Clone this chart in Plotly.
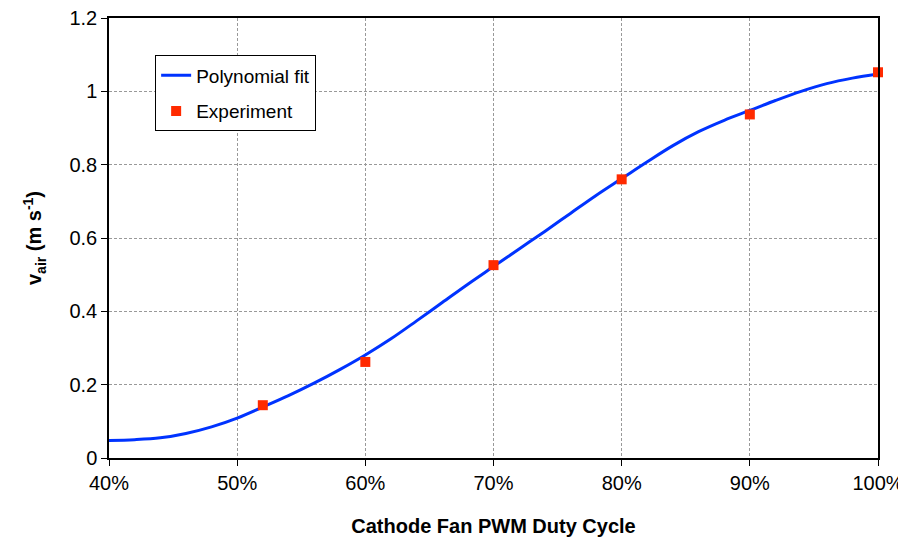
import plotly.graph_objects as go

# Polynomial fit curve
fit_x = [40, 42, 44, 46, 48, 50, 52, 54, 56, 58, 60, 62, 64, 66, 68, 70, 72, 74, 76, 78,
         80, 82, 84, 86, 88, 90, 92, 94, 96, 98, 100]
fit_y = [0.048, 0.050, 0.055, 0.067, 0.085, 0.109, 0.139, 0.170, 0.204, 0.241, 0.281,
         0.325, 0.374, 0.424, 0.474, 0.522, 0.570, 0.618, 0.667, 0.716, 0.762, 0.808,
         0.852, 0.890, 0.921, 0.948, 0.975, 1.000, 1.021, 1.036, 1.047]

# Experiment
exp_x = [52, 60, 70, 80, 90, 100]
exp_y = [0.144, 0.262, 0.526, 0.760, 0.937, 1.052]

x_ticks = [40, 50, 60, 70, 80, 90, 100]
x_labels = ["40%", "50%", "60%", "70%", "80%", "90%", "100%"]
y_ticks = [0, 0.2, 0.4, 0.6, 0.8, 1, 1.2]
y_labels = ["0", "0.2", "0.4", "0.6", "0.8", "1", "1.2"]

fig = go.Figure()
fig.add_trace(go.Scatter(x=fit_x, y=fit_y, mode="lines", name="Polynomial fit",
                         legendgroup="a",
                         line=dict(color="#0033FF", width=3, shape="spline", smoothing=1.0)))
fig.add_trace(go.Scatter(x=exp_x, y=exp_y, mode="markers", name="Experiment",
                         legendgroup="b",
                         marker=dict(symbol="square", size=10, color="#FF2A00"),
                         cliponaxis=False))

font_family = "Liberation Sans, Arial, sans-serif"
fig.update_layout(
    width=898, height=537,
    margin=dict(l=101, r=28, t=10, b=87),
    paper_bgcolor="white", plot_bgcolor="white",
    font=dict(family=font_family, size=20, color="black"),
    showlegend=True,
    legend=dict(x=0.06, y=0.915, xanchor="left", yanchor="top",
                bgcolor="white", bordercolor="black", borderwidth=1,
                font=dict(size=19), tracegroupgap=8, itemwidth=30),
    xaxis=dict(range=[40, 100], tickmode="array", tickvals=x_ticks, ticktext=x_labels,
               automargin=False, ticklabeloverflow="allow",
               showline=True, linecolor="black", linewidth=1.5, mirror=True,
               ticks="outside", ticklen=6, tickcolor="black",
               tickfont=dict(size=20),
               showgrid=True, gridcolor="#999999", griddash="3px,2px", gridwidth=1,
               zeroline=False,
               title=dict(text="<b>Cathode Fan PWM Duty Cycle</b>", standoff=26,
                          font=dict(size=20))),
    yaxis=dict(range=[0, 1.2], tickmode="array", tickvals=y_ticks, ticktext=y_labels,
               automargin=False, ticklabeloverflow="allow",
               showline=True, linecolor="black", linewidth=1.5, mirror=True,
               ticks="outside", ticklen=6, tickcolor="black",
               tickfont=dict(size=20),
               showgrid=True, gridcolor="#999999", griddash="3px,2px", gridwidth=1,
               zeroline=False,
               title=dict(text="<b>v<sub>air</sub> (m s<sup>-1</sup>)</b>", standoff=22,
                          font=dict(size=20))),
)

fig.write_html("out.html")
